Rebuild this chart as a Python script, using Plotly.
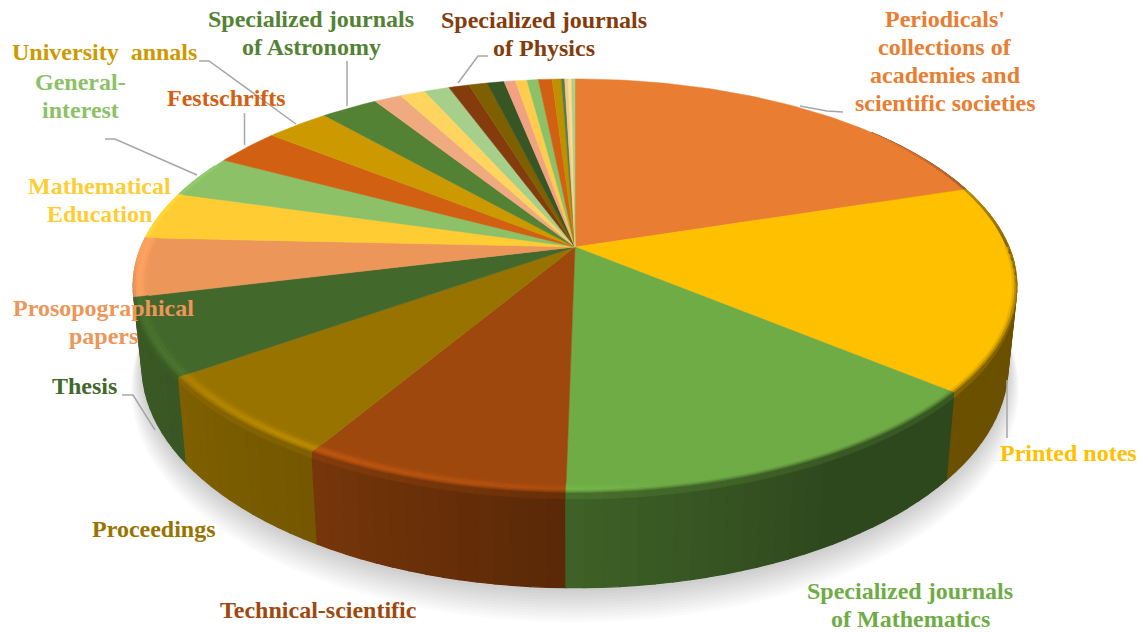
import numpy as np
import plotly.graph_objects as go

categories = ["Periodicals' collections of academies and scientific societies", "Printed notes",
              "Specialized journals of Mathematics", "Technical-scientific", "Proceedings", "Thesis",
              "Prosopographical papers", "Mathematical Education", "General-interest", "Festschrifts",
              "University annals", "Specialized journals of Astronomy", "Other a", "Other b", "Other c",
              "Specialized journals of Physics", "Other d", "Other e", "Other f", "Other g", "Other h",
              "Other i", "Other j", "Other k", "Other l", "Other m", "Other n"]
shares = [20.05, 16.0, 14.2, 8.2, 6.65, 6.0, 4.6, 3.75, 3.35, 2.9, 2.8, 2.5, 1.2, 1.1, 1.1, 0.9, 0.8, 0.75,
          0.5, 0.5, 0.5, 0.6, 0.4, 0.15, 0.15, 0.15, 0.15]
colors = ["#E97D31", "#FFC000", "#6FAC46", "#9E480E", "#997300", "#43682B", "#EC965A", "#FFCD33", "#8CC168",
          "#D26012", "#CC9A00", "#548235", "#EFAB7F", "#FFD55F", "#A5CF8A", "#843C0C", "#7F6000", "#375623",
          "#F1A283", "#FFCC4D", "#8CC168", "#D26012", "#BF9000", "#548235", "#F4C39E", "#FFDD80", "#A9D18E"]

# perspective model of the pie's top disc
CX, CY, R, H, K, T = 575, 247, 434, 199.7, 0.188, 77


def project(t, r=1.0, z=0.0):
    t = np.radians(t)
    u, v = r * np.sin(t), r * np.cos(t)
    w = 1 + K * v
    return CX + R * u / w * (1 - 0.02 * z / T), CY - H * v / w + z / w


def hex2rgb(c):
    return np.array([int(c[i:i + 2], 16) for i in (1, 3, 5)], float)


def css(a):
    a = np.clip(a, 0, 255)
    return "rgb(%d,%d,%d)" % tuple(a)


def side_factor(t):
    return np.interp(t, [50, 150, 181, 211, 235, 258, 268, 300], [.42, .42, .57, .76, .84, .88, 1.06, 1.06])


def light_amount(t):
    return np.interp(t, [50, 170, 190, 215, 235, 255, 300], [.0, .0, .14, .22, .13, .08, .08])


fig = go.Figure()


def poly(xs, ys, color, lw=0.6):
    fig.add_trace(go.Scatter(x=list(xs) + [xs[0]], y=list(ys) + [ys[0]], mode="lines", fill="toself",
                             fillcolor=color, line=dict(color=color, width=lw),
                             hoverinfo="skip", showlegend=False))


edges = np.concatenate([[0], np.cumsum(shares)]) / sum(shares) * 360

# soft drop shadow
ring = np.arange(0, 361, 3)
for i in range(12):
    x, y = project(ring, 1.0 + 0.0025 * (12 - i), T + 20 - 1.6 * i)
    poly(list(x), list(y), "rgba(0,0,0,0.017)", lw=0)

# strips of the visible rim
strips = []
for a, b, c in zip(edges[:-1], edges[1:], colors):
    lo, hi = max(a, 50), min(b, 296)
    if hi <= lo:
        continue
    n = int(np.ceil((hi - lo) / 2.0))
    g = np.linspace(lo, hi, n + 1)
    for s, e in zip(g[:-1], g[1:]):
        strips.append((s, e, hex2rgb(c)))
strips.sort(key=lambda q: -abs(q[0] - 180))

for s, e, rgb in strips:
    m = (s + e) / 2
    col = rgb * side_factor(m)
    x0, y0 = project(np.array([s, e]), 1, 0)
    x1, y1 = project(np.array([e, s]), 1, T)
    poly(list(x0) + list(x1), list(y0) + list(y1), css(col), lw=1.2)

# top surface
for a, b, c in zip(edges[:-1], edges[1:], colors):
    g = np.linspace(a, b, max(2, int((b - a) / 1.0) + 2))
    x, y = project(g)
    poly([CX] + list(x), [CY] + list(y), c, lw=0.5)

# rim bevel
for s, e, rgb in strips:
    m = (s + e) / 2
    side = rgb * side_factor(m)
    if m < 90:
        f = np.interp(m, [50, 90], [0, 0.85])
        xa, ya = project(np.array([s, e]), 0.994, 0)
        xb, yb = project(np.array([e, s]), 1.0, 0)
        poly(list(xa) + list(xb), list(ya) + list(yb), css(rgb * (1 - f) + side * f), lw=0.4)
        continue
    if m > 272:
        f = 0.8
        xa, ya = project(np.array([s, e]), 0.99, 0)
        xb, yb = project(np.array([e, s]), 1.0, 0)
        poly(list(xa) + list(xb), list(ya) + list(yb), css(rgb * (1 - f) + side * f), lw=0.4)
        continue
    hi = rgb * (1 + light_amount(m))
    stops = [(0.968, 0, rgb), (0.976, 0, rgb * 0.6 + hi * 0.4), (0.983, 0, hi), (0.990, 0, hi),
             (0.995, 0, hi * 0.7 + side * 0.3), (1.0, 0, hi * 0.35 + side * 0.65), (1.0, 5, side)]
    for (r0, z0, c0), (r1, z1, c1) in zip(stops[:-1], stops[1:]):
        xa, ya = project(np.array([s, e]), r0, z0)
        xb, yb = project(np.array([e, s]), r1, z1)
        poly(list(xa) + list(xb), list(ya) + list(yb), css((c0 + c1) / 2), lw=0.4)

# leader lines and labels
leaders = ["M800 106 L827 111 L843 112", "M1007 380 L1007 438", "M155 430 L133 395 L122 395",
           "M296 124 L209 61 L199 61", "M197 175 L115 139 L105 139", "M244.5 145 L244.5 113",
           "M347 106 L347 61", "M458 83 L478 56 L488 56"]
shapes = [dict(type="path", path=p, xref="x", yref="y", line=dict(color="#A6A6A6", width=1.5), layer="above")
          for p in leaders]

labels = [(["Periodicals'", "collections of", "academies and", "scientific societies"], 945, 61, "#E97D31"),
          (["Printed notes"], 1068, 453, "#FFC000"),
          (["Specialized journals", "of Mathematics"], 910, 605, "#6FAC46"),
          (["Technical-scientific"], 318, 610, "#9E480E"),
          (["Proceedings"], 154, 529, "#997300"),
          (["Thesis"], 84, 386, "#43682B"),
          (["Prosopographical", "papers"], 103, 322, "#EC965A"),
          (["Mathematical", "Education"], 99, 200, "#FFCD33"),
          (["General-", "interest"], 80, 96, "#8CC168"),
          (["Festschrifts"], 226, 98, "#D26012"),
          (["University\u00a0 annals"], 104, 52, "#CC9A00"),
          (["Specialized journals", "of Astronomy"], 311, 33, "#548235"),
          (["Specialized journals", "of Physics"], 544, 34, "#843C0C")]
annotations = []
for lines, x, y, c in labels:
    for i, line in enumerate(lines):
        annotations.append(dict(text="<b>" + line + "</b>", x=x, y=y + (i - (len(lines) - 1) / 2) * 28,
                                xref="x", yref="y", showarrow=False, xanchor="center", yanchor="middle",
                                font=dict(family="Liberation Serif", size=24, color=c)))

fig.update_layout(width=1147, height=633, margin=dict(l=0, r=0, t=0, b=0), paper_bgcolor="white",
                  plot_bgcolor="white", shapes=shapes, annotations=annotations, showlegend=False,
                  xaxis=dict(range=[0, 1147], visible=False, fixedrange=True),
                  yaxis=dict(range=[633, 0], visible=False, fixedrange=True))
fig.write_html("out.html", config={"displayModeBar": False},
               post_script="document.body.style.margin='0';document.documentElement.style.overflow='hidden';")
